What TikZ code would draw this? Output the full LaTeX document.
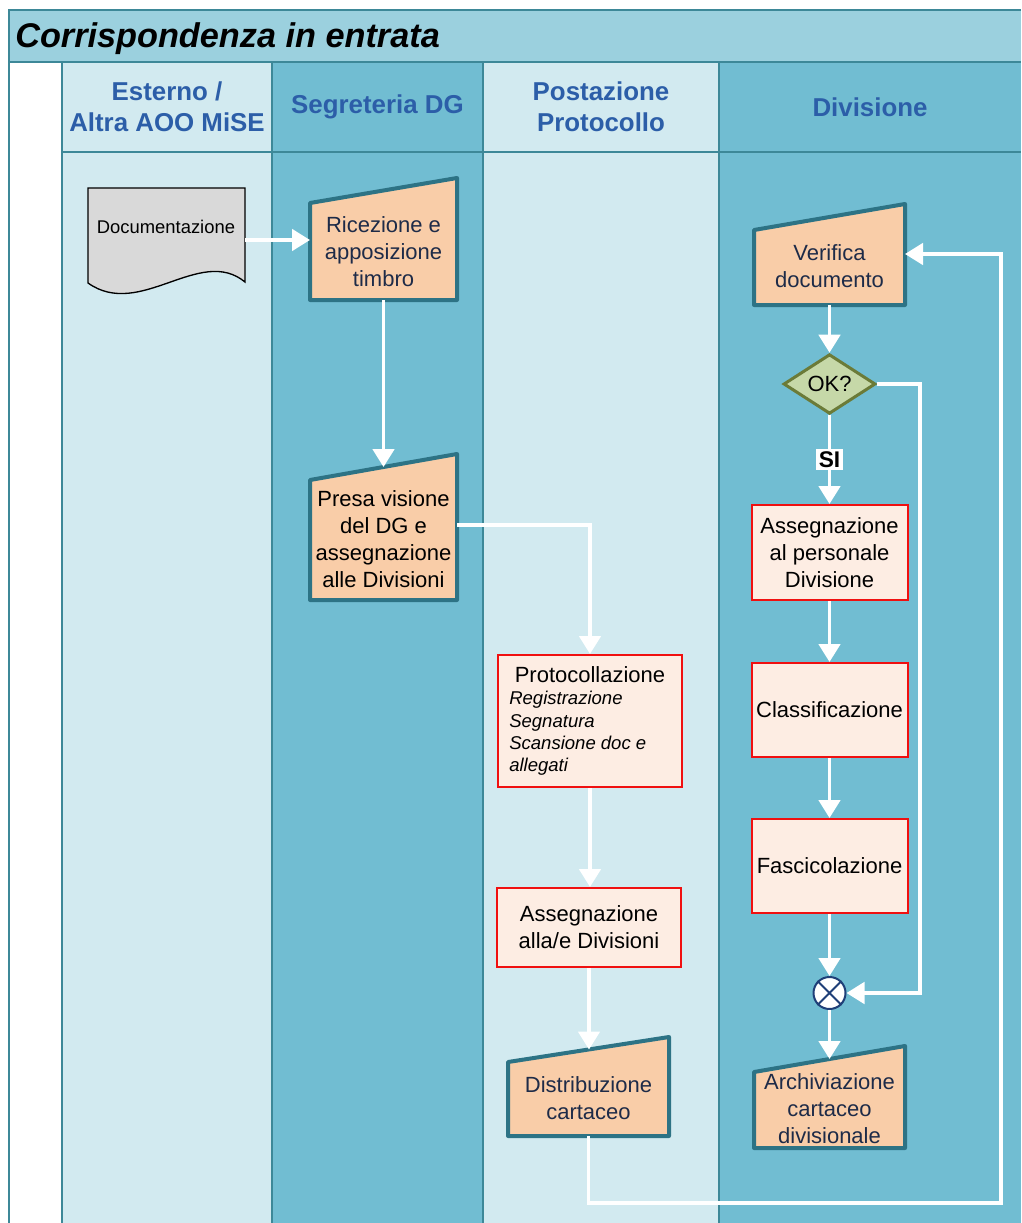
\documentclass[tikz,border=0pt]{standalone}
\usepackage{fontspec}
\setmainfont{Liberation Sans}
\usetikzlibrary{arrows.meta,shapes.geometric}

\definecolor{laneLight}{HTML}{D2EAF0}
\definecolor{laneDark}{HTML}{71BDD2}
\definecolor{titleBar}{HTML}{9BD0DE}
\definecolor{gridLine}{HTML}{3D8898}
\definecolor{headText}{HTML}{2C5EA8}
\definecolor{manFill}{HTML}{F9CDA8}
\definecolor{manLine}{HTML}{2D7385}
\definecolor{manText}{HTML}{1E2B48}
\definecolor{procFill}{HTML}{FDEDE3}
\definecolor{procLine}{HTML}{F01010}
\definecolor{decFill}{HTML}{C6D8A8}
\definecolor{decLine}{HTML}{6B7B38}
\definecolor{docFill}{HTML}{D9D9D9}
\definecolor{mergeLine}{HTML}{1F3F78}

\newcommand\boxfont{\fontsize{16.5}{20.25}\selectfont}
\newcommand\docfont{\fontsize{13.8}{16}\selectfont}
\newcommand\noteitfont{\fontsize{13.9}{16.7}\selectfont\itshape}
\newcommand\headfont{\fontsize{19.4}{23.25}\selectfont\bfseries}
\newcommand\titlefont{\fontsize{25.7}{30}\selectfont\bfseries\itshape}

\begin{document}
\begin{tikzpicture}[x=0.75pt,y=-0.75pt,
  grid/.style={draw=gridLine, line width=1.2pt},
  headtext/.style={font=\headfont, text=headText, align=center},
  manual/.style={draw=manLine, fill=manFill, line width=3pt, line join=round},
  mantext/.style={font=\boxfont, text=manText, align=center, inner sep=0pt},
  procbox/.style={draw=procLine, fill=procFill, line width=1.5pt, font=\boxfont, align=center, inner sep=0pt},
  docshape/.style={draw=black, fill=docFill, line width=1pt},
  decision/.style={diamond, draw=decLine, fill=decFill, line width=2.25pt, font=\boxfont,
    minimum width=92*0.75pt, minimum height=54*0.75pt, inner sep=0pt},
  mergenode/.style={circle, draw=mergeLine, fill=white, line width=1.5pt, minimum size=32*0.75pt, inner sep=0pt},
  flow/.style={draw=white, line width=2.8pt, -{Triangle[width=16pt,length=13.5pt]}},
  silabel/.style={fill=white, text=black, font=\fontsize{17}{17}\selectfont\bfseries, inner sep=2pt}]

\useasboundingbox (0,0) rectangle (1021,1223);

% swimlane backgrounds
\fill[laneLight] (62,62) rectangle (272,1223);
\fill[laneDark]  (272,62) rectangle (483,1223);
\fill[laneLight] (483,62) rectangle (719,1223);
\fill[laneDark]  (719,62) rectangle (1021,1223);
\fill[titleBar]  (9,10) rectangle (1021,62);

% grid lines
\draw[grid] (1021,10) -- (9,10) -- (9,1223);
\draw[grid] (9,62) -- (1021,62);
\draw[grid] (62,152) -- (1021,152);
\foreach \gx in {62,272,483,719} \draw[grid] (\gx,62) -- (\gx,1223);

% title and lane headers
\node[anchor=west, font=\titlefont, inner sep=0pt] (title) at (15,39) {Corrispondenza in entrata};
\node[headtext] (h1) at (167,106.5) {Esterno /\\Altra AOO MiSE};
\node[headtext] (h2) at (377.5,107) {Segreteria DG};
\node[headtext] (h3) at (601,106.5) {Postazione\\Protocollo};
\node[headtext] (h4) at (870,107) {Divisione};

% incoming documents
\draw[docshape] (88,188) -- (245,188) -- (245,282) .. controls (200,245) and (140,320) .. (88,283) -- cycle;
\node[font=\docfont, inner sep=0pt] (doc) at (166,227) {Documentazione};
\coordinate (docOut) at (245,240);

% Segreteria DG
\draw[manual] (310,203) -- (457,178) -- (457,300) -- (310,300) -- cycle;
\node[mantext, minimum width=147*0.75pt, minimum height=96*0.75pt] (ric) at (383.5,252) {Ricezione e\\apposizione\\timbro};
\coordinate (ricIn) at (310,240);

\draw[manual] (310,480) -- (457,454) -- (457,600) -- (310,600) -- cycle;
\node[mantext, text=black, minimum width=147*0.75pt, minimum height=122*0.75pt] (presa) at (383.5,539) {Presa visione\\del DG e\\assegnazione\\alle Divisioni};
\coordinate (presaTop) at (383.5,467);
\coordinate (presaOut) at (457,525);

% Postazione Protocollo
\node[procbox, minimum width=184*0.75pt, minimum height=132*0.75pt] (protoc) at (590,721) {};
\node[font=\boxfont, inner sep=0pt] (protocT) at (590,675) {Protocollazione};
\node[font=\noteitfont, align=left, anchor=west, inner sep=0pt] (protocL) at (509,733.5) {Registrazione\\Segnatura\\Scansione doc e\\allegati};

\node[procbox, minimum width=184*0.75pt, minimum height=79*0.75pt] (assDiv) at (589,927.5) {Assegnazione\\alla/e Divisioni};

\draw[manual] (508,1062) -- (669,1037) -- (669,1136) -- (508,1136) -- cycle;
\node[mantext, minimum width=161*0.75pt, minimum height=75*0.75pt] (distr) at (588.5,1098.5) {Distribuzione\\cartaceo};
\coordinate (distrTop) at (588.5,1049.5);

% Divisione
\draw[manual] (754,230) -- (905,204) -- (905,305) -- (754,305) -- cycle;
\node[mantext, minimum width=151*0.75pt, minimum height=77*0.75pt] (verif) at (829.5,266.5) {Verifica\\documento};
\coordinate (verifIn) at (905,254);

\node[decision] (ok) at (829.5,384) {OK?};

\node[procbox, minimum width=156*0.75pt, minimum height=95*0.75pt] (assPers) at (829.5,552.5) {Assegnazione\\al personale\\Divisione};
\node[procbox, minimum width=156*0.75pt, minimum height=94*0.75pt] (classif) at (829.5,710) {Classificazione};
\node[procbox, minimum width=156*0.75pt, minimum height=94*0.75pt] (fasc) at (829.5,866) {Fascicolazione};

\node[mergenode] (merge) at (829.5,993) {};
\draw[mergeLine, line width=1.5pt] (merge.north west) -- (merge.south east) (merge.north east) -- (merge.south west);

\draw[manual] (754,1072) -- (905,1046) -- (905,1148) -- (754,1148) -- cycle;
\node[mantext, minimum width=151*0.75pt, minimum height=78*0.75pt] (arch) at (829.5,1109) {Archiviazione\\cartaceo\\divisionale};
\coordinate (archTop) at (829.5,1059);

% connectors
\draw[flow] (docOut) -- (ricIn);
\draw[flow] (ric.south) -- (presaTop);
\draw[flow] (presaOut) -| (protoc.north);
\draw[flow] (protoc.south) -- (protoc.south |- assDiv.north);
\draw[flow] (assDiv.south) -- (assDiv.south |- distrTop);
\draw[flow] (distr.south) -- (588.5,1203) -- (1001,1203) |- (verifIn);
\draw[flow] (verif.south) -- (ok.north);
\draw[flow] (ok.south) -- node[silabel] {SI} (assPers.north);
\draw[flow] (ok.east) -- (920,384) |- (merge.east);
\draw[flow] (assPers.south) -- (classif.north);
\draw[flow] (classif.south) -- (fasc.north);
\draw[flow] (fasc.south) -- (merge.north);
\draw[flow] (merge.south) -- (archTop);
\end{tikzpicture}
\end{document}
